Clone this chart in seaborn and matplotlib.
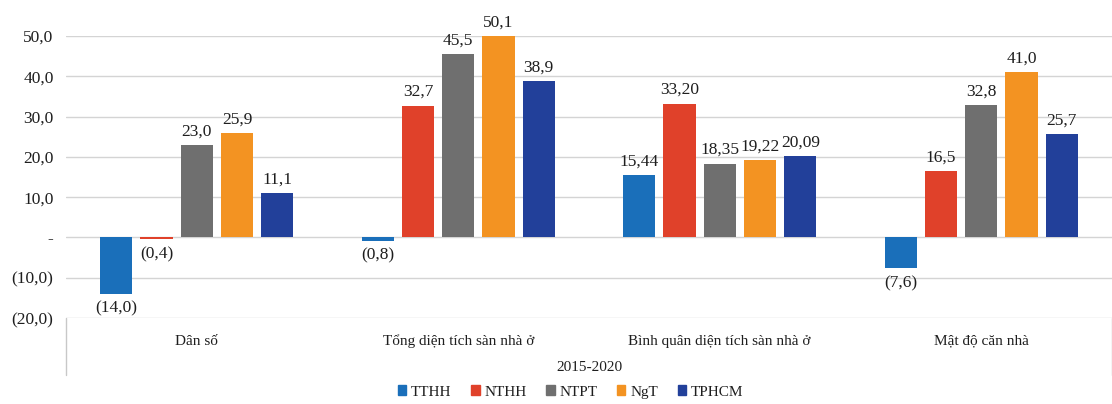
"""Housing indicators 2015-2020 grouped bar chart."""

import matplotlib.pyplot as plt
import numpy as np
import pandas as pd
import seaborn as sns
from matplotlib.lines import Line2D

CATEGORIES = ["Dân số", "Tổng diện tích sàn nhà ở", "Bình quân diện tích sàn nhà ở", "Mật độ căn nhà"]
DECIMALS = [1, 1, 2, 1]
SERIES = ["TTHH", "NTHH", "NTPT", "NgT", "TPHCM"]
TTHH = [-14.0, -0.8, 15.44, -7.6]
NTHH = [-0.4, 32.7, 33.20, 16.5]
NTPT = [23.0, 45.5, 18.35, 32.8]
NGT = [25.9, 50.1, 19.22, 41.0]
TPHCM = [11.1, 38.9, 20.09, 25.7]
YTICKS = [-20, -10, 0, 10, 20, 30, 40, 50]
YTICK_LABELS = ["(20,0)", "(10,0)", "-", "10,0", "20,0", "30,0", "40,0", "50,0"]
PERIOD = "2015-2020"

COLORS = ["#1a6fba", "#e0412a", "#6f6f6f", "#f39322", "#22409a"]
FONT = "Liberation Serif"
TEXT_COLOR = "#1e1e1e"


def fmt(value: float, decimals: int) -> str:
    """Excel-style accounting label: comma decimal, negatives in brackets."""
    text = f"{abs(value):.{decimals}f}".replace(".", ",")
    return f"({text})" if value < 0 else text


def main() -> None:
    values = [TTHH, NTHH, NTPT, NGT, TPHCM]
    df = pd.DataFrame(
        [
            {"category": cat, "series": name, "value": vals[i], "dec": DECIMALS[i]}
            for name, vals in zip(SERIES, values)
            for i, cat in enumerate(CATEGORIES)
        ]
    )

    sns.set_theme(style="white")
    plt.rcParams["font.family"] = [FONT, "DejaVu Sans"]

    fig = plt.figure(figsize=(11.12, 4.04), dpi=100)
    ax = fig.add_axes([66 / 1112, 1 - 318 / 404, 1 - 66 / 1112, 282 / 404])

    sns.barplot(
        data=df,
        x="category",
        y="value",
        hue="series",
        order=CATEGORIES,
        hue_order=SERIES,
        palette=COLORS,
        width=0.77,
        gap=0.2,
        saturation=1,
        edgecolor="none",
        ax=ax,
    )

    ax.set_ylim(-20, 50)
    ax.set_xlim(-0.5, len(CATEGORIES) - 0.5)
    ax.set_yticks(YTICKS)
    ax.set_yticklabels(YTICK_LABELS, fontsize=12.5, color=TEXT_COLOR)
    ax.grid(axis="y", color="#d4d4d4", linewidth=1)
    ax.set_axisbelow(True)
    for side in ["left", "right", "top", "bottom"]:
        ax.spines[side].set_visible(False)
    ax.tick_params(axis="both", length=0)
    ax.tick_params(axis="y", pad=9)
    ax.tick_params(axis="x", pad=12, labelsize=11, labelcolor=TEXT_COLOR)
    ax.set_ylabel("")
    ax.set_xlabel(PERIOD, fontsize=11, color=TEXT_COLOR, labelpad=9)

    # value labels
    for name, container in zip(SERIES, ax.containers):
        sub = df[df["series"] == name].reset_index(drop=True)
        for bar, (_, row) in zip(container, sub.iterrows()):
            x = bar.get_x() + bar.get_width() / 2
            v = row["value"]
            if v >= 0:
                ax.annotate(fmt(v, row["dec"]), (x, min(v, 50)), xytext=(0, 4),
                            textcoords="offset points", ha="center", va="bottom",
                            fontsize=12.5, color=TEXT_COLOR, annotation_clip=False)
            else:
                ax.annotate(fmt(v, row["dec"]), (x, v), xytext=(0, -5),
                            textcoords="offset points", ha="center", va="top",
                            fontsize=12.5, color=TEXT_COLOR, annotation_clip=False)

    # multi-level category axis frame
    for xa in [0.0, 1.0]:
        ax.add_line(Line2D([xa, xa], [0, -57 / 282], transform=ax.transAxes,
                           color="#c8c8c8", linewidth=1, clip_on=False))

    handles = [plt.Rectangle((0, 0), 1, 1, color=c) for c in COLORS]
    ax.legend_.remove()
    fig.legend(handles, SERIES, loc="center", bbox_to_anchor=(0.513, 1 - 392 / 404),
               ncol=5, frameon=False, fontsize=11, handlelength=0.55, handleheight=0.55,
               handletextpad=0.3, columnspacing=1.3, labelcolor=TEXT_COLOR)

    fig.savefig("out.png", dpi=100)
    plt.close(fig)


if __name__ == "__main__":
    main()
